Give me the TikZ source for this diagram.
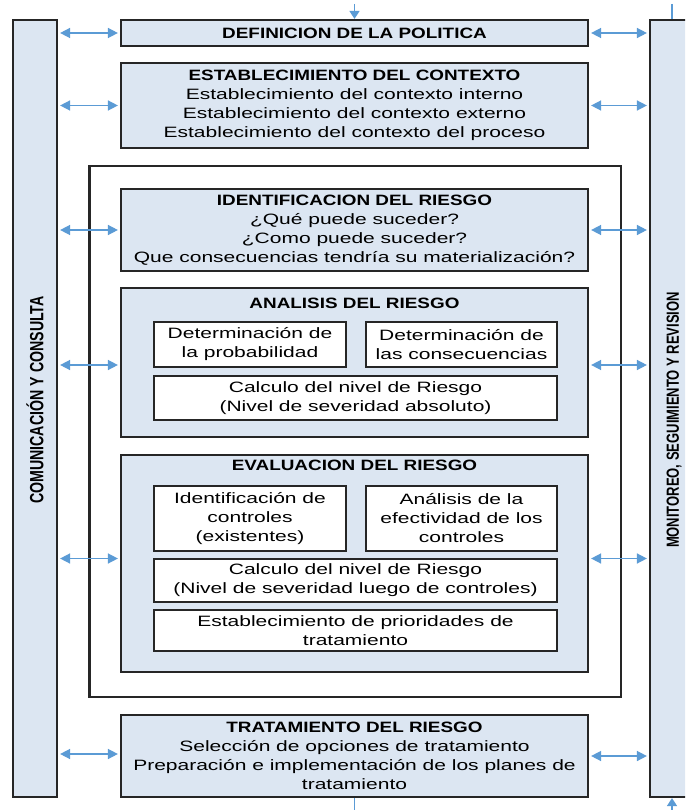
\documentclass[tikz,border=0pt]{standalone}
\usepackage{fontspec}
\setmainfont{Liberation Sans}
\newfontfamily\regf{Liberation Sans}[FakeStretch=1.4]
\newfontfamily\boldf{Liberation Sans}[FakeStretch=1.26]
\newfontfamily\sidef{Liberation Sans}
\usetikzlibrary{arrows.meta}
\definecolor{boxfill}{RGB}{220,230,242}
\definecolor{arrowc}{RGB}{91,155,213}
\newcommand{\ttl}[1]{{\boldf\bfseries #1}}
\tikzset{
  bluebox/.style={draw=black!85, line width=2.2pt, fill=boxfill, inner sep=0pt, align=center,
    font=\regf\fontsize{15}{19}\selectfont},
  whitebox/.style={bluebox, fill=white},
  frame/.style={draw=black!85, line width=2.2pt, fill=white, inner sep=0pt},
  titletext/.style={inner sep=0pt, font=\boldf\bfseries\fontsize{15}{19}\selectfont},
  link/.style={draw=arrowc, line width=1.5pt,
    {Triangle[length=10pt,width=10pt]}-{Triangle[length=10pt,width=10pt]}, shorten <=2pt, shorten >=2pt},
  stub/.style={draw=arrowc, line width=1.5pt},
  tipin/.style={-{Triangle[length=8pt,width=10pt]}},
}
\begin{document}
\begin{tikzpicture}[x=1pt,y=-1pt]
\clip (0,0) rectangle (685,810);
\fill[white] (0,0) rectangle (685,810);

% side bars
\node[bluebox, minimum width=44pt, minimum height=777pt] (lbar) at (35,408.5) {};
\node[bluebox, minimum width=44pt, minimum height=777pt] (rbar) at (672,408.5) {};
\node[inner sep=0pt] (ltext) at (35,400) {\scalebox{1.35}[1]{\rotatebox{90}{\sidef\bfseries\fontsize{14.2}{16}\selectfont COMUNICACIÓN Y CONSULTA}}};
\node[inner sep=0pt] (rtext) at (674,420) {\scalebox{1.35}[1]{\rotatebox{90}{\sidef\bfseries\fontsize{13}{16}\selectfont MONITOREO, SEGUIMIENTO Y REVISION}}};

% top boxes
\node[bluebox, minimum width=467pt, minimum height=26pt] (def) at (354.5,33) {\ttl{DEFINICION DE LA POLITICA}};
\node[bluebox, minimum width=467pt, minimum height=85pt] (ctx) at (354.5,105.5)
  {\ttl{ESTABLECIMIENTO DEL CONTEXTO}\\Establecimiento del contexto interno\\Establecimiento del contexto externo\\Establecimiento del contexto del proceso};

% big frame
\node[frame, minimum width=531.5pt, minimum height=531pt] (frm) at (355.25,431.5) {};

\node[bluebox, minimum width=467pt, minimum height=82pt] (ident) at (354.5,230)
  {\ttl{IDENTIFICACION DEL RIESGO}\\¿Qué puede suceder?\\¿Como puede suceder?\\Que consecuencias tendría su materialización?};

% analisis
\node[bluebox, minimum width=467pt, minimum height=149pt] (anal) at (354.5,362.5) {};
\node[titletext] (analt) at (354.5,303) {ANALISIS DEL RIESGO};
\node[whitebox, minimum width=192pt, minimum height=45pt] (p1) at (250,344.5) {Determinación de\\la probabilidad};
\node[whitebox, minimum width=191pt, minimum height=45pt] (p2) at (461.5,344.5) {Determinación de\\las consecuencias};
\node[whitebox, minimum width=403pt, minimum height=44pt] (p3) at (355.5,398) {Calculo del nivel de Riesgo\\(Nivel de severidad absoluto)};

% evaluacion
\node[bluebox, minimum width=467pt, minimum height=217pt] (eval) at (354.5,563.5) {};
\node[titletext] (evalt) at (354.5,465) {EVALUACION DEL RIESGO};
\node[whitebox, minimum width=192pt, minimum height=65pt] (e1) at (250,518.5) {Identificación de\\controles\\(existentes)};
\node[whitebox, minimum width=191pt, minimum height=65pt] (e2) at (461.5,518.5) {Análisis de la\\efectividad de los\\controles};
\node[whitebox, minimum width=403pt, minimum height=43pt] (e3) at (355.5,580.5) {Calculo del nivel de Riesgo\\(Nivel de severidad luego de controles)};
\node[whitebox, minimum width=403pt, minimum height=41pt] (e4) at (355.5,630.5) {Establecimiento de prioridades de\\tratamiento};

% tratamiento
\node[bluebox, minimum width=467pt, minimum height=82pt] (trat) at (354.5,756)
  {\ttl{TRATAMIENTO DEL RIESGO}\\Selección de opciones de tratamiento\\Preparación e implementación de los planes de\\tratamiento};

% attachment points
\coordinate (analW) at ([yshift=-2.5pt]anal.west);
\coordinate (analE) at ([yshift=-2.5pt]anal.east);
\coordinate (evalW) at ([yshift=5pt]eval.west);
\coordinate (evalE) at ([yshift=5pt]eval.east);
\coordinate (tratW) at ([yshift=2pt]trat.west);

% connectors left
\draw[link] (lbar.east |- def.west) -- (def.west);
\draw[link] (lbar.east |- ctx.west) -- (ctx.west);
\draw[link] (lbar.east |- ident.west) -- (ident.west);
\draw[link] (lbar.east |- analW) -- (analW);
\draw[link] (lbar.east |- evalW) -- (evalW);
\draw[link] (lbar.east |- tratW) -- (tratW);
% connectors right
\draw[link] (def.east) -- (rbar.west |- def.east);
\draw[link] (ctx.east) -- (rbar.west |- ctx.east);
\draw[link] (ident.east) -- (rbar.west |- ident.east);
\draw[link] (analE) -- (rbar.west |- analE);
\draw[link] (evalE) -- (rbar.west |- evalE);
\draw[link] (trat.east) -- (rbar.west |- trat.east);

% stubs
\coordinate (topin) at (354.5,4);
\coordinate (botout) at (354.5,815);
\coordinate (rtop) at (672,4);
\coordinate (rbot) at (672,815);
\draw[stub, tipin] (topin) -- (def.north);
\draw[stub] (trat.south) -- (botout);
\draw[stub] (rtop) -- (rbar.north);
\draw[stub, tipin] (rbot) -- (rbar.south);
\end{tikzpicture}
\end{document}
